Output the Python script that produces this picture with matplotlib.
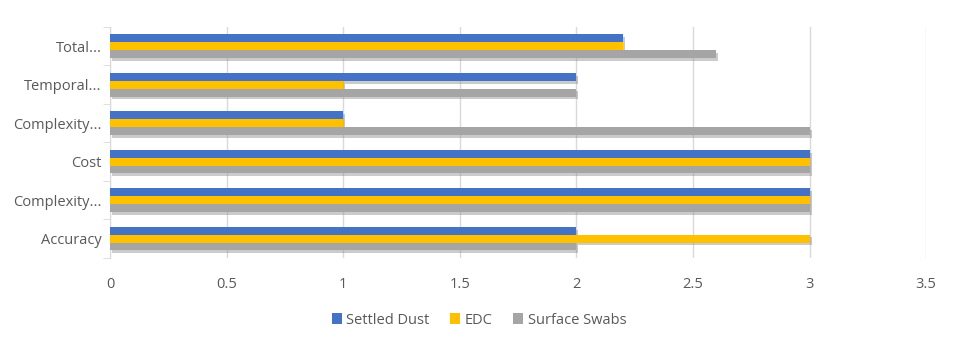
import matplotlib
matplotlib.use("Agg")
import matplotlib.pyplot as plt
import matplotlib.patheffects as pe
import numpy as np

categories = ["Accuracy", "Complexity...", "Cost", "Complexity...", "Temporal...", "Total..."]
settled_dust = [2, 3, 3, 1, 2, 2.2]
edc = [3, 3, 3, 1, 1, 2.2]
surface_swabs = [2, 3, 3, 3, 2, 2.6]
series_names = ["Settled Dust", "EDC", "Surface Swabs"]
series_colors = ["#4472C4", "#FFC000", "#A5A5A5"]
x_ticks = [0, 0.5, 1, 1.5, 2, 2.5, 3, 3.5]
x_tick_labels = ["0", "0.5", "1", "1.5", "2", "2.5", "3", "3.5"]

plt.rcParams["font.family"] = ["Open Sans", "DejaVu Sans"]
text_color = "#595959"

fig = plt.figure(figsize=(9.58, 3.37), dpi=100)
ax = fig.add_axes([0.1148, 0.235, 0.852, 0.685])

y = np.arange(len(categories))
h = 0.205
offsets = [h, 0, -h]
all_bars = []
for vals, off, name, col in zip([settled_dust, edc, surface_swabs], offsets, series_names, series_colors):
    bars = ax.barh(y + off, vals, height=h, color=col, label=name, zorder=3)
    all_bars.append(bars)

ax.set_xlim(0, 3.5)
ax.set_ylim(-0.5, len(categories) - 0.5)
ax.set_xticks(x_ticks)
ax.set_xticklabels(x_tick_labels)
ax.set_yticks(y)
ax.set_yticklabels(categories)
ax.set_yticks(np.arange(-0.5, len(categories)), minor=True)

ax.grid(axis="x", color="#D9D9D9", linewidth=1, zorder=0)
for s in ["top", "right", "bottom"]:
    ax.spines[s].set_visible(False)
ax.spines["left"].set_color("#D9D9D9")
ax.tick_params(axis="y", which="major", length=0, pad=6, labelsize=10.5, labelcolor=text_color)
ax.tick_params(axis="y", which="minor", length=5, color="#D9D9D9")
ax.tick_params(axis="x", length=0, pad=14, labelsize=10.5, labelcolor=text_color)

leg = fig.legend(loc="center", bbox_to_anchor=(0.5, 0.05), ncol=3, frameon=False,
                 fontsize=10.5, handlelength=0.7, handleheight=0.7, handletextpad=0.3,
                 columnspacing=1.4)
for t in leg.get_texts():
    t.set_color(text_color)

# soft drop shadow under the bars (applied after the legend so its keys stay flat)
shadow = [pe.SimplePatchShadow(offset=(1.5, -2), shadow_rgbFace="#7f7f7f", alpha=0.4), pe.Normal()]
for bars in all_bars:
    for b in bars:
        b.set_path_effects(shadow)

fig.savefig("out.png", dpi=100)
